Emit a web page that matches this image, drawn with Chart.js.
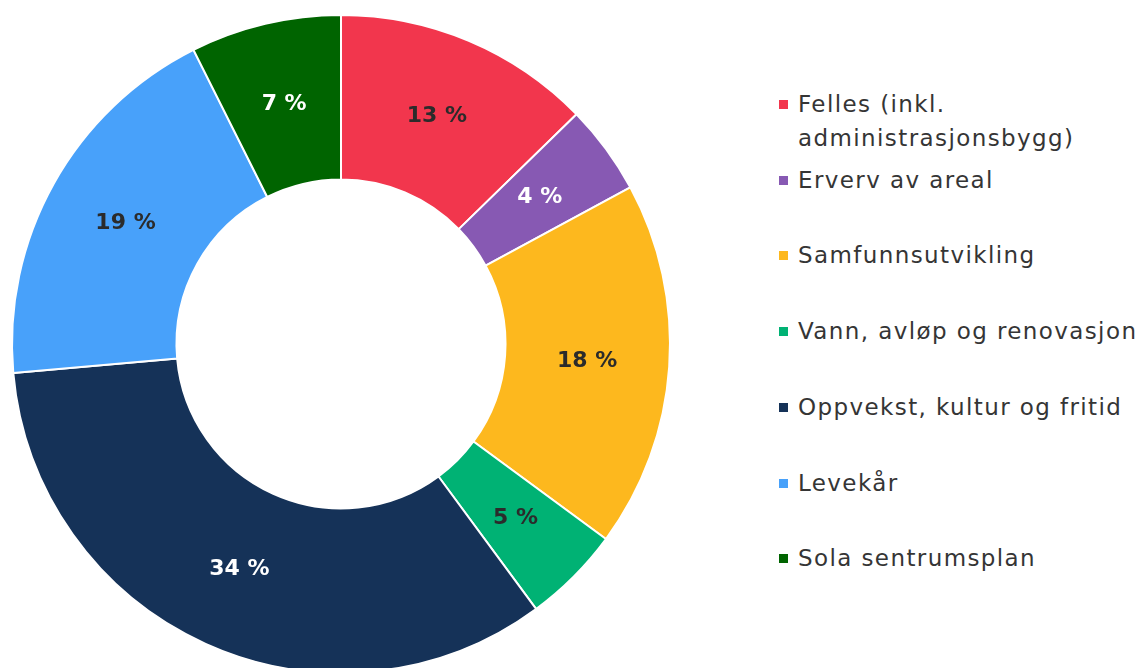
<!DOCTYPE html>
<html>
<head>
<meta charset="utf-8">
<script src="https://cdn.jsdelivr.net/npm/chart.js@4/dist/chart.umd.min.js"></script>
<style>
  html, body { margin: 0; padding: 0; background: #fff; overflow: hidden; }
  #wrap { position: relative; width: 1142px; height: 668px; overflow: hidden; }
  #chart { position: absolute; left: 0; top: 0; }
  #legend { position: absolute; left: 0; top: 0; font-family: "DejaVu Sans", sans-serif; font-size: 23px; letter-spacing: 1.4px; color: #353535; }
  .item { position: absolute; left: 779px; white-space: nowrap; }
  .box { position: absolute; left: 0; width: 9px; height: 9px; }
  .txt { position: absolute; left: 19px; line-height: 34px; }
</style>
</head>
<body>
<div id="wrap">
  <canvas id="chart" width="682" height="674"></canvas>
  <div id="legend"></div>
</div>
<script>
const labels = [
    "Felles (inkl.\nadministrasjonsbygg)",
    "Erverv av areal",
    "Samfunnsutvikling",
    "Vann, avløp og renovasjon",
    "Oppvekst, kultur og fritid",
    "Levekår",
    "Sola sentrumsplan"
];
// shares in percent; labels show them rounded
const shares = [12.7, 4.4, 18.0, 4.8, 33.7, 19.0, 7.4];
const colors = ['#f2364d', '#8759b3', '#fdb81e', '#00b274', '#153258', '#48a1fa', '#006400'];
const labelColors = ['#2b2b2b', '#ffffff', '#2b2b2b', '#2b2b2b', '#ffffff', '#2b2b2b', '#ffffff'];

const sliceLabels = {
    id: "sliceLabels",
    afterDatasetsDraw(chart) {
        const ctx = chart.ctx;
        const meta = chart.getDatasetMeta(0);
        ctx.save();
        ctx.font = "bold 22px 'DejaVu Sans', sans-serif";
        ctx.textAlign = "center";
        ctx.textBaseline = "middle";
        meta.data.forEach((arc, i) => {
            const pos = arc.tooltipPosition();
            ctx.fillStyle = labelColors[i];
            ctx.fillText(Math.round(shares[i]) + " %", pos.x, pos.y);
        });
        ctx.restore();
    }
};

new Chart(document.getElementById("chart").getContext('2d'), {
    type: 'doughnut',
    data: {
        labels: labels,
        datasets: [{
            data: shares,
            backgroundColor: colors,
            borderColor: '#ffffff',
            borderWidth: 2
        }]
    },
    options: {
        responsive: false,
        animation: false,
        cutout: '50%',
        layout: {
            padding: {top: 14, left: 11, right: 11, bottom: 0}
        },
        plugins: {
            legend: {display: false},
            tooltip: {enabled: false}
        }
    },
    plugins: [sliceLabels]
});

// legend built from the same arrays
const legend = document.getElementById("legend");
labels.forEach((lab, i) => {
    const item = document.createElement("div");
    item.className = "item";
    const center = 104 + i * 75.7;
    item.style.top = center + "px";
    const box = document.createElement("div");
    box.className = "box";
    box.style.background = colors[i];
    box.style.top = "-4px";
    const txt = document.createElement("div");
    txt.className = "txt";
    txt.style.top = "-17px";
    txt.innerHTML = lab.replace("\n", "<br>");
    item.appendChild(box);
    item.appendChild(txt);
    legend.appendChild(item);
});
</script>
</body>
</html>
